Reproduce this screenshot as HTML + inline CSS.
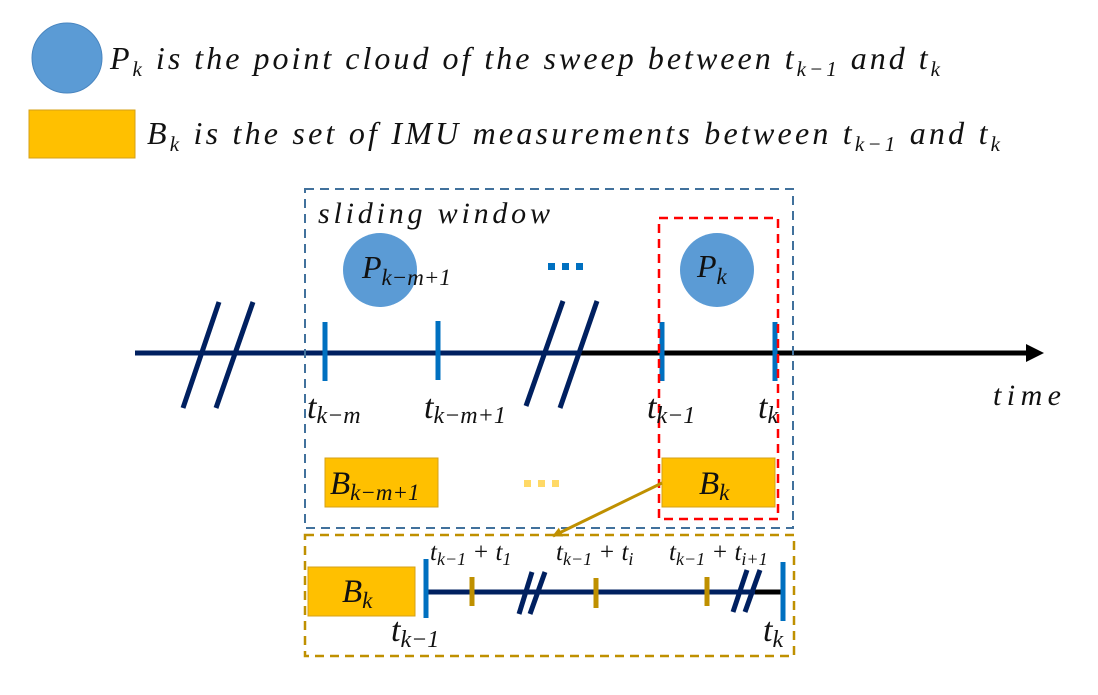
<!DOCTYPE html>
<html><head><meta charset="utf-8"><style>
html,body{margin:0;padding:0;background:#fff;width:1098px;height:695px;overflow:hidden}
text{font-family:"Liberation Serif","DejaVu Serif",serif;font-style:italic;fill:#111}
</style></head><body>
<svg width="1098" height="695" viewBox="0 0 1098 695" xmlns="http://www.w3.org/2000/svg">
<defs><marker id="ah" markerWidth="10" markerHeight="10" refX="9" refY="5" orient="auto" markerUnits="userSpaceOnUse"><path d="M0,0 L10,5 L0,10z" fill="#bf9000"/></marker></defs>
<circle cx="67" cy="58" r="35" fill="#5b9bd5" stroke="#4a86c0" stroke-width="1"/>
<text x="110" y="69" font-size="32" textLength="830" lengthAdjust="spacing">P<tspan font-size="21" dy="7">k</tspan><tspan dy="-7"> is the point cloud of the sweep between t</tspan><tspan font-size="21" dy="7">k−1</tspan><tspan dy="-7"> and t</tspan><tspan font-size="21" dy="7">k</tspan></text>
<rect x="29" y="110" width="106" height="48" fill="#ffc000" stroke="#d4a017" stroke-width="1"/>
<text x="147" y="144" font-size="32" textLength="853" lengthAdjust="spacing">B<tspan font-size="21" dy="7">k</tspan><tspan dy="-7"> is the set of IMU measurements between t</tspan><tspan font-size="21" dy="7">k−1</tspan><tspan dy="-7"> and t</tspan><tspan font-size="21" dy="7">k</tspan></text>

<line x1="135" y1="353" x2="578" y2="353" stroke="#002060" stroke-width="5"/>
<line x1="578" y1="353" x2="1030" y2="353" stroke="#000" stroke-width="5"/>
<path d="M1026,344 L1044,353 L1026,362z" fill="#000"/>
<g stroke="#002060" stroke-width="5">
<line x1="183" y1="408" x2="219" y2="302"/><line x1="216" y1="408" x2="253" y2="302"/>
<line x1="526" y1="406" x2="563" y2="301"/><line x1="560" y1="408" x2="597" y2="301"/>
</g>
<g stroke="#0070c0" stroke-width="5">
<line x1="325" y1="322" x2="325" y2="381"/><line x1="438" y1="321" x2="438" y2="380"/>
<line x1="662" y1="322" x2="662" y2="381"/><line x1="775" y1="322" x2="775" y2="381"/>
</g>
<rect x="305" y="189" width="488" height="339" fill="none" stroke="#41719c" stroke-width="2" stroke-dasharray="9,6"/>
<rect x="659" y="218" width="119" height="301" fill="none" stroke="#ff0000" stroke-width="2.5" stroke-dasharray="9,6"/>
<text x="318" y="223" font-size="30" textLength="232" lengthAdjust="spacing">sliding window</text>
<circle cx="380" cy="270" r="37" fill="#5b9bd5"/>
<text x="362" y="278" font-size="32">P<tspan font-size="23" dy="7">k−m+1</tspan></text>
<circle cx="717" cy="270" r="37" fill="#5b9bd5"/>
<text x="697" y="277" font-size="32">P<tspan font-size="23" dy="7">k</tspan></text>
<g fill="#0070c0"><rect x="548" y="263" width="7" height="7"/><rect x="562" y="263" width="7" height="7"/><rect x="576" y="263" width="7" height="7"/></g>
<text x="307" y="418" font-size="34">t<tspan font-size="24" dy="5">k−m</tspan></text>
<text x="424" y="418" font-size="34">t<tspan font-size="24" dy="5">k−m+1</tspan></text>
<text x="647" y="418" font-size="34">t<tspan font-size="24" dy="5">k−1</tspan></text>
<text x="758" y="418" font-size="34">t<tspan font-size="24" dy="5">k</tspan></text>
<text x="993" y="405" font-size="30" textLength="68" lengthAdjust="spacing">time</text>
<rect x="325" y="458" width="113" height="49" fill="#ffc000" stroke="#d4a017"/>
<text x="330" y="494" font-size="33">B<tspan font-size="23" dy="6">k−m+1</tspan></text>
<g fill="#ffd966"><rect x="524" y="480" width="7" height="7"/><rect x="538" y="480" width="7" height="7"/><rect x="552" y="480" width="7" height="7"/></g>
<rect x="662" y="458" width="113" height="49" fill="#ffc000" stroke="#d4a017"/>
<text x="699" y="494" font-size="33">B<tspan font-size="23" dy="6">k</tspan></text>
<line x1="662" y1="483" x2="553" y2="536" stroke="#bf9000" stroke-width="3" marker-end="url(#ah)"/>

<rect x="305" y="535" width="489" height="121" fill="none" stroke="#bf9000" stroke-width="2.5" stroke-dasharray="9,6"/>
<rect x="308" y="567" width="107" height="49" fill="#ffc000" stroke="#d4a017"/>
<text x="342" y="602" font-size="33">B<tspan font-size="23" dy="6">k</tspan></text>
<line x1="426" y1="592" x2="760" y2="592" stroke="#002060" stroke-width="5"/>
<line x1="755" y1="592" x2="783" y2="592" stroke="#000" stroke-width="5"/>
<g stroke="#002060" stroke-width="5">
<line x1="519" y1="614" x2="532" y2="572"/><line x1="530" y1="614" x2="545" y2="572"/>
<line x1="733" y1="612" x2="747" y2="570"/><line x1="745" y1="612" x2="760" y2="570"/>
</g>
<g stroke="#bf9000" stroke-width="5">
<line x1="472" y1="577" x2="472" y2="606"/><line x1="596" y1="578" x2="596" y2="608"/><line x1="707" y1="577" x2="707" y2="606"/>
</g>
<g stroke="#0070c0" stroke-width="5">
<line x1="426" y1="559" x2="426" y2="618"/><line x1="783" y1="562" x2="783" y2="621"/>
</g>
<text x="430" y="560" font-size="25">t<tspan font-size="18" dy="5">k−1</tspan><tspan dy="-5"> + t</tspan><tspan font-size="18" dy="5">1</tspan></text>
<text x="556" y="560" font-size="25">t<tspan font-size="18" dy="5">k−1</tspan><tspan dy="-5"> + t</tspan><tspan font-size="18" dy="5">i</tspan></text>
<text x="669" y="560" font-size="25">t<tspan font-size="18" dy="5">k−1</tspan><tspan dy="-5"> + t</tspan><tspan font-size="18" dy="5">i+1</tspan></text>
<text x="391" y="641" font-size="34">t<tspan font-size="24" dy="6">k−1</tspan></text>
<text x="763" y="641" font-size="34">t<tspan font-size="24" dy="6">k</tspan></text>
</svg>
</body></html>
